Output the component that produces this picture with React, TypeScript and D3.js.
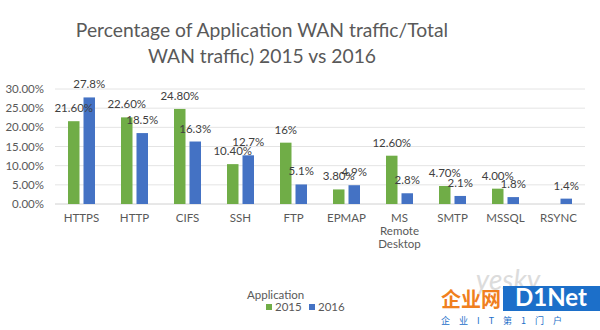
import React from "react";
import * as d3 from "d3";

const categories = ["HTTPS", "HTTP", "CIFS", "SSH", "FTP", "EPMAP", "MS Remote Desktop", "SMTP", "MSSQL", "RSYNC"];
const values2015 = [21.6, 22.6, 24.8, 10.4, 16, 3.8, 12.6, 4.7, 4.0, 0];
const labels2015 = ["21.60%", "22.60%", "24.80%", "10.40%", "16%", "3.80%", "12.60%", "4.70%", "4.00%", ""];
const values2016 = [27.8, 18.5, 16.3, 12.7, 5.1, 4.9, 2.8, 2.1, 1.8, 1.4];
const labels2016 = ["27.8%", "18.5%", "16.3%", "12.7%", "5.1%", "4.9%", "2.8%", "2.1%", "1.8%", "1.4%"];
const yTicks = [0, 5, 10, 15, 20, 25, 30];
const seriesNames = ["2015", "2016"];

const W = 600, H = 330;
const FONT = "Lato, 'Open Sans', sans-serif";
const GREEN = "#70ad47";
const BLUE = "#4472c4";

export default function App() {
  const x = d3.scaleBand<string>().domain(categories).range([55, 585]).paddingInner(0).paddingOuter(0);
  const y = d3.scaleLinear().domain([0, 30]).range([204, 89]);
  const bw = 11.5;
  const gap = 4;
  return (
    <svg width={W} height={H} style={{ position: "absolute", left: 0, top: 0, background: "#fff" }}>
      <rect width={W} height={H} fill="#fff" />
      <text x={262} y={37} textAnchor="middle" fontFamily={FONT} fontSize={19.3} fill="#595959">
        Percentage of Application WAN traffic/Total
      </text>
      <text x={262} y={63} textAnchor="middle" fontFamily={FONT} fontSize={19.3} fill="#595959">
        WAN traffic) 2015 vs 2016
      </text>
      {yTicks.map((t) => (
        <g key={t}>
          <line x1={55} x2={585} y1={y(t)} y2={y(t)} stroke={t === 0 ? "#d0d0d0" : "#e4e4e4"} strokeWidth={1} />
          <text x={44} y={y(t)} dy="0.35em" textAnchor="end" fontFamily={FONT} fontSize={11.5} fill="#595959">
            {t.toFixed(2)}%
          </text>
        </g>
      ))}
      {categories.map((c, i) => {
        const cx = (x(c) as number) + x.bandwidth() / 2;
        const gx = cx - gap / 2 - bw;
        const bx = cx + gap / 2;
        return (
          <g key={c}>
            {values2015[i] > 0 && (
              <rect x={gx} y={y(values2015[i])} width={bw} height={y(0) - y(values2015[i])} fill={GREEN} />
            )}
            <rect x={bx} y={y(values2016[i])} width={bw} height={y(0) - y(values2016[i])} fill={BLUE} />
            {labels2015[i] && (
              <text x={gx + bw / 2} y={y(values2015[i]) - 13} dy="0.35em" textAnchor="middle" fontFamily={FONT} fontSize={11.5} fill="#404040">
                {labels2015[i]}
              </text>
            )}
            <text x={bx + bw / 2} y={y(values2016[i]) - 13} dy="0.35em" textAnchor="middle" fontFamily={FONT} fontSize={11.5} fill="#404040">
              {labels2016[i]}
            </text>
            {c.split(" ").map((w, k) => (
              <text key={k} x={cx} y={218 + k * 13} dy="0.35em" textAnchor="middle" fontFamily={FONT} fontSize={11.5} fill="#595959">
                {w}
              </text>
            ))}
          </g>
        );
      })}
      <text x={247} y={295} dy="0.35em" fontFamily={FONT} fontSize={11.5} fill="#595959">Application</text>
      {seriesNames.map((s, i) => (
        <g key={s}>
          <rect x={266 + i * 43} y={304} width={6} height={6} fill={i === 0 ? GREEN : BLUE} />
          <text x={275 + i * 43} y={307} dy="0.35em" fontFamily={FONT} fontSize={11.5} fill="#595959">{s}</text>
        </g>
      ))}
      <g>
        <text x={508} y={290} textAnchor="middle" fontFamily={FONT} fontSize={28} fill="#dcdcdc" fontStyle="italic">yesky</text>
        <text x={441} y={307} fontFamily="'Noto Sans CJK SC', sans-serif" fontSize={20} fontWeight={700} fill="#f07f1e">企业网</text>
        <rect x={503} y={286} width={97} height={25} fill="#1c6fc9" />
        <text x={551} y={306} textAnchor="middle" fontFamily={FONT} fontSize={24} fontWeight={700} fill="#fff">D1Net</text>
        <text x={441} y={324} fontFamily="'Noto Sans CJK SC', sans-serif" fontSize={9} fill="#1c6fc9" letterSpacing={9}>企业IT第1门户</text>
      </g>
    </svg>
  );
}
